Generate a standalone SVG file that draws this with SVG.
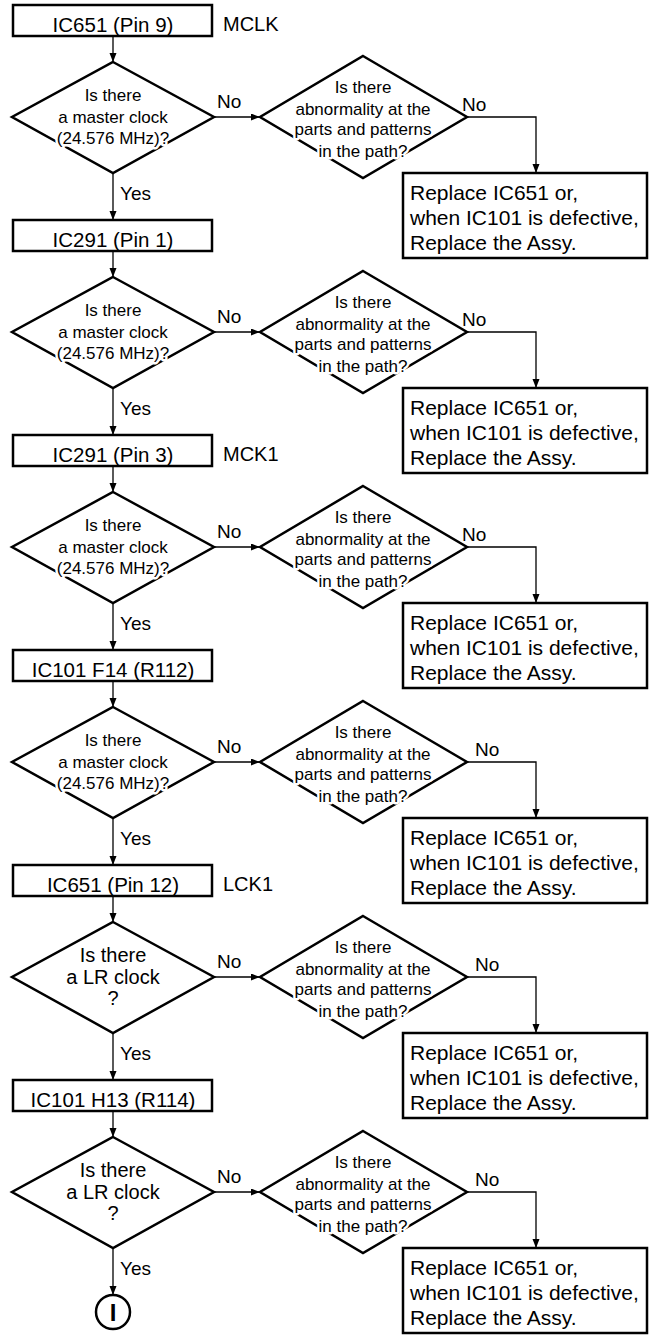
<svg xmlns="http://www.w3.org/2000/svg" width="661" height="1342" viewBox="0 0 661 1342">
<defs>
<marker id="ah" markerUnits="userSpaceOnUse" markerWidth="10" markerHeight="8" refX="9" refY="3.5" orient="auto">
<path d="M0,0 L9,3.5 L0,7 z" fill="#000"/>
</marker>
</defs>
<style>
text{font-family:"Liberation Sans",Arial,sans-serif;fill:#000}
.box{fill:#fff;stroke:#000;stroke-width:2.5}
.dia{fill:none;stroke:#000;stroke-width:2.5;stroke-linejoin:miter}
.bt{font-size:20.5px;text-anchor:middle}
.lab{font-size:20px}
.dt{font-size:17px;text-anchor:middle;stroke:#fff;stroke-width:5px;paint-order:stroke;stroke-linejoin:round}
.lr{font-size:20px}
.rt{font-size:21px}
.yn{font-size:19px}
.cn{fill:none;stroke:#000;stroke-width:1.3}
</style>
<rect width="661" height="1342" fill="#fff"/>

<g id="connectors">
<path class="cn" d="M113,36 V62" marker-end="url(#ah)"/>
<path class="cn" d="M113,173 V220" marker-end="url(#ah)"/>
<path class="cn" d="M214,117 H260" marker-end="url(#ah)"/>
<path class="cn" d="M467,117 H536 V173" marker-end="url(#ah)"/>
<path class="cn" d="M113,251 V277" marker-end="url(#ah)"/>
<path class="cn" d="M113,388 V435" marker-end="url(#ah)"/>
<path class="cn" d="M214,332 H260" marker-end="url(#ah)"/>
<path class="cn" d="M467,332 H536 V388" marker-end="url(#ah)"/>
<path class="cn" d="M113,466 V492" marker-end="url(#ah)"/>
<path class="cn" d="M113,603 V650" marker-end="url(#ah)"/>
<path class="cn" d="M214,547 H260" marker-end="url(#ah)"/>
<path class="cn" d="M467,547 H536 V603" marker-end="url(#ah)"/>
<path class="cn" d="M113,681 V707" marker-end="url(#ah)"/>
<path class="cn" d="M113,818 V865" marker-end="url(#ah)"/>
<path class="cn" d="M214,762 H260" marker-end="url(#ah)"/>
<path class="cn" d="M467,762 H536 V818" marker-end="url(#ah)"/>
<path class="cn" d="M113,896 V922" marker-end="url(#ah)"/>
<path class="cn" d="M113,1033 V1080" marker-end="url(#ah)"/>
<path class="cn" d="M214,977 H260" marker-end="url(#ah)"/>
<path class="cn" d="M467,977 H536 V1033" marker-end="url(#ah)"/>
<path class="cn" d="M113,1111 V1137" marker-end="url(#ah)"/>
<path class="cn" d="M113,1248 V1295" marker-end="url(#ah)"/>
<path class="cn" d="M214,1192 H260" marker-end="url(#ah)"/>
<path class="cn" d="M467,1192 H536 V1248" marker-end="url(#ah)"/>
<text class="yn" x="217" y="108">No</text>
<text class="yn" x="462" y="111">No</text>
<text class="yn" x="120" y="200">Yes</text>
<text class="yn" x="217" y="323">No</text>
<text class="yn" x="462" y="326">No</text>
<text class="yn" x="120" y="415">Yes</text>
<text class="yn" x="217" y="538">No</text>
<text class="yn" x="462" y="541">No</text>
<text class="yn" x="120" y="630">Yes</text>
<text class="yn" x="217" y="753">No</text>
<text class="yn" x="475" y="756">No</text>
<text class="yn" x="120" y="845">Yes</text>
<text class="yn" x="217" y="968">No</text>
<text class="yn" x="475" y="971">No</text>
<text class="yn" x="120" y="1060">Yes</text>
<text class="yn" x="217" y="1183">No</text>
<text class="yn" x="475" y="1186">No</text>
<text class="yn" x="120" y="1275">Yes</text>
</g>

<g id="s1-box"><rect class="box" x="13" y="5" width="199" height="31"/><text class="bt" x="113" y="31.5">IC651 (Pin 9)</text><text class="lab" x="223" y="31">MCLK</text></g>
<g id="s1-q"><polygon class="dia" points="113,62 214,117 113,173 12,117"/><text class="dt" x="113" y="101">Is there</text><text class="dt" x="113" y="122.5">a master clock</text><text class="dt" x="113" y="144">(24.576 MHz)?</text></g>
<g id="s1-chk"><polygon class="dia" points="363,56 467,117 363,178 260,117"/><text class="dt" x="363" y="93">Is there</text><text class="dt" x="363" y="115">abnormality at the</text><text class="dt" x="363" y="135">parts and patterns</text><text class="dt" x="363" y="157">in the path?</text></g>
<g id="s1-rep"><rect class="box" x="403" y="173" width="244" height="85"/><text class="rt" x="410" y="200">Replace IC651 or,</text><text class="rt" x="410" y="225">when IC101 is defective,</text><text class="rt" x="410" y="250">Replace the Assy.</text></g>

<g id="s2-box"><rect class="box" x="13" y="220" width="199" height="31"/><text class="bt" x="113" y="246.5">IC291 (Pin 1)</text></g>
<g id="s2-q"><polygon class="dia" points="113,277 214,332 113,388 12,332"/><text class="dt" x="113" y="316">Is there</text><text class="dt" x="113" y="337.5">a master clock</text><text class="dt" x="113" y="359">(24.576 MHz)?</text></g>
<g id="s2-chk"><polygon class="dia" points="363,271 467,332 363,393 260,332"/><text class="dt" x="363" y="308">Is there</text><text class="dt" x="363" y="330">abnormality at the</text><text class="dt" x="363" y="350">parts and patterns</text><text class="dt" x="363" y="372">in the path?</text></g>
<g id="s2-rep"><rect class="box" x="403" y="388" width="244" height="85"/><text class="rt" x="410" y="415">Replace IC651 or,</text><text class="rt" x="410" y="440">when IC101 is defective,</text><text class="rt" x="410" y="465">Replace the Assy.</text></g>

<g id="s3-box"><rect class="box" x="13" y="435" width="199" height="31"/><text class="bt" x="113" y="461.5">IC291 (Pin 3)</text><text class="lab" x="223" y="461">MCK1</text></g>
<g id="s3-q"><polygon class="dia" points="113,492 214,547 113,603 12,547"/><text class="dt" x="113" y="531">Is there</text><text class="dt" x="113" y="552.5">a master clock</text><text class="dt" x="113" y="574">(24.576 MHz)?</text></g>
<g id="s3-chk"><polygon class="dia" points="363,486 467,547 363,608 260,547"/><text class="dt" x="363" y="523">Is there</text><text class="dt" x="363" y="545">abnormality at the</text><text class="dt" x="363" y="565">parts and patterns</text><text class="dt" x="363" y="587">in the path?</text></g>
<g id="s3-rep"><rect class="box" x="403" y="603" width="244" height="85"/><text class="rt" x="410" y="630">Replace IC651 or,</text><text class="rt" x="410" y="655">when IC101 is defective,</text><text class="rt" x="410" y="680">Replace the Assy.</text></g>

<g id="s4-box"><rect class="box" x="13" y="650" width="199" height="31"/><text class="bt" x="113" y="676.5">IC101 F14 (R112)</text></g>
<g id="s4-q"><polygon class="dia" points="113,707 214,762 113,818 12,762"/><text class="dt" x="113" y="746">Is there</text><text class="dt" x="113" y="767.5">a master clock</text><text class="dt" x="113" y="789">(24.576 MHz)?</text></g>
<g id="s4-chk"><polygon class="dia" points="363,701 467,762 363,823 260,762"/><text class="dt" x="363" y="738">Is there</text><text class="dt" x="363" y="760">abnormality at the</text><text class="dt" x="363" y="780">parts and patterns</text><text class="dt" x="363" y="802">in the path?</text></g>
<g id="s4-rep"><rect class="box" x="403" y="818" width="244" height="85"/><text class="rt" x="410" y="845">Replace IC651 or,</text><text class="rt" x="410" y="870">when IC101 is defective,</text><text class="rt" x="410" y="895">Replace the Assy.</text></g>

<g id="s5-box"><rect class="box" x="13" y="865" width="199" height="31"/><text class="bt" x="113" y="891.5">IC651 (Pin 12)</text><text class="lab" x="223" y="891">LCK1</text></g>
<g id="s5-q"><polygon class="dia" points="113,922 214,977 113,1033 12,977"/><text class="dt lr" x="113" y="962">Is there</text><text class="dt lr" x="113" y="983.5">a LR clock</text><text class="dt lr" x="113" y="1005">?</text></g>
<g id="s5-chk"><polygon class="dia" points="363,916 467,977 363,1038 260,977"/><text class="dt" x="363" y="953">Is there</text><text class="dt" x="363" y="975">abnormality at the</text><text class="dt" x="363" y="995">parts and patterns</text><text class="dt" x="363" y="1017">in the path?</text></g>
<g id="s5-rep"><rect class="box" x="403" y="1033" width="244" height="85"/><text class="rt" x="410" y="1060">Replace IC651 or,</text><text class="rt" x="410" y="1085">when IC101 is defective,</text><text class="rt" x="410" y="1110">Replace the Assy.</text></g>

<g id="s6-box"><rect class="box" x="13" y="1080" width="199" height="31"/><text class="bt" x="113" y="1106.5">IC101 H13 (R114)</text></g>
<g id="s6-q"><polygon class="dia" points="113,1137 214,1192 113,1248 12,1192"/><text class="dt lr" x="113" y="1177">Is there</text><text class="dt lr" x="113" y="1198.5">a LR clock</text><text class="dt lr" x="113" y="1220">?</text></g>
<g id="s6-chk"><polygon class="dia" points="363,1131 467,1192 363,1253 260,1192"/><text class="dt" x="363" y="1168">Is there</text><text class="dt" x="363" y="1190">abnormality at the</text><text class="dt" x="363" y="1210">parts and patterns</text><text class="dt" x="363" y="1232">in the path?</text></g>
<g id="s6-rep"><rect class="box" x="403" y="1248" width="244" height="85"/><text class="rt" x="410" y="1275">Replace IC651 or,</text><text class="rt" x="410" y="1300">when IC101 is defective,</text><text class="rt" x="410" y="1325">Replace the Assy.</text></g>

<g id="end"><circle cx="113" cy="1312" r="17" fill="#fff" stroke="#000" stroke-width="2.5"/><text x="113" y="1321" font-size="24" font-weight="bold" text-anchor="middle">I</text></g>
</svg>
